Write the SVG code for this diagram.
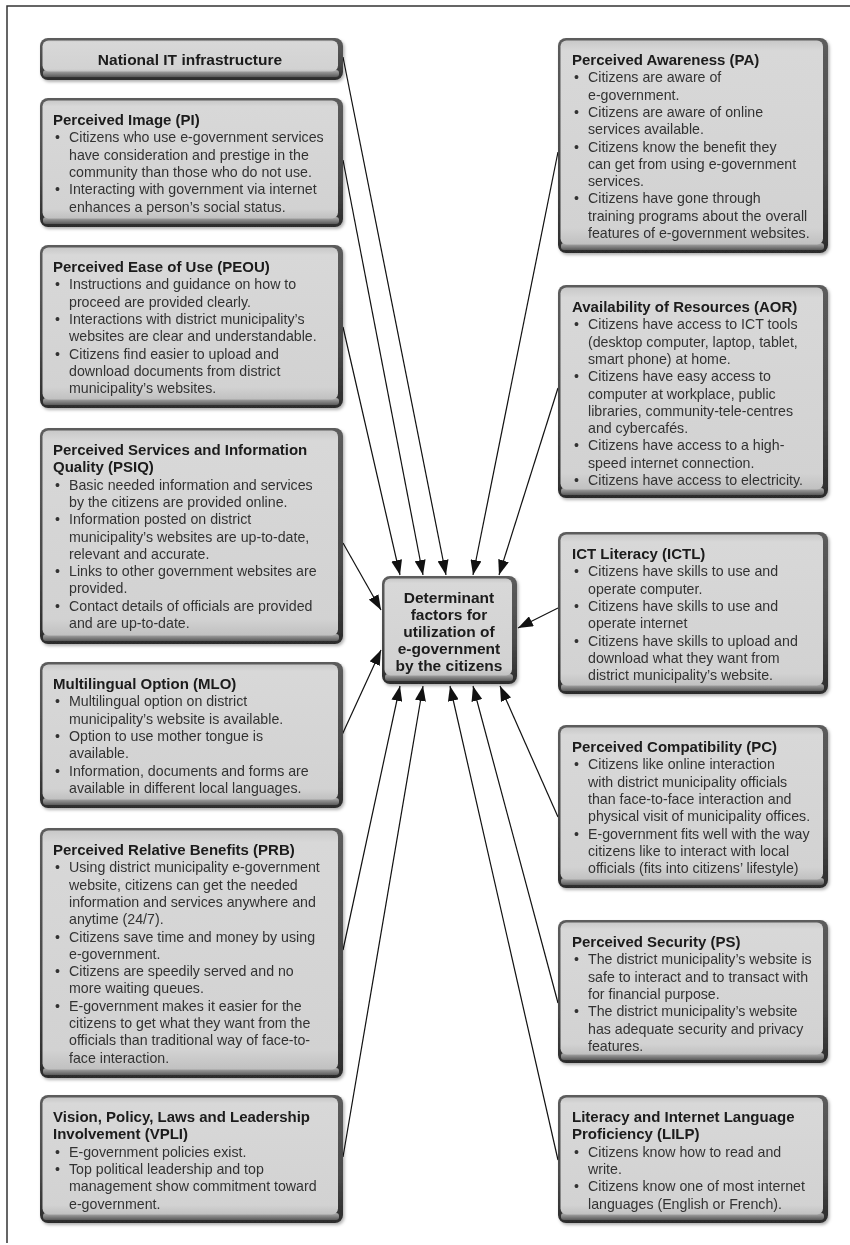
<svg xmlns="http://www.w3.org/2000/svg" width="850" height="1245" viewBox="0 0 850 1245">
<style>
.frame{fill:url(#frameG)}
.bev{fill:url(#bevG)}
.face{fill:url(#faceG)}
.box{filter:url(#ds)}
.ttl{font-family:"Liberation Sans",Arial,sans-serif;font-weight:bold;font-size:15px;fill:#1a1a1a}
.ctr{font-family:"Liberation Sans",Arial,sans-serif;font-weight:bold;font-size:15.5px;fill:#1a1a1a;text-anchor:middle}
.txt{font-family:"Liberation Sans",Arial,sans-serif;font-size:14.2px;fill:#333}
.conn line{stroke:#111;stroke-width:1.2;marker-end:url(#ah)}
.border{stroke:#333;stroke-width:1.5;fill:none}
</style>
<defs>
<linearGradient id="frameG" x1="0" y1="0" x2="0" y2="1"><stop offset="0" stop-color="#5c5c5c"/><stop offset="0.6" stop-color="#4a4a4a"/><stop offset="1" stop-color="#2c2c2c"/></linearGradient>
<linearGradient id="bevG" x1="0" y1="0" x2="0" y2="1"><stop offset="0" stop-color="#b0b0b0"/><stop offset="1" stop-color="#5a5a5a"/></linearGradient>
<linearGradient id="faceG" x1="0" y1="0" x2="0" y2="1"><stop offset="0" stop-color="#c8c8c8"/><stop offset="0.05" stop-color="#d8d8d8"/><stop offset="0.92" stop-color="#d2d2d2"/><stop offset="1" stop-color="#c0c0c0"/></linearGradient>
<filter id="ds" x="-5%" y="-5%" width="115%" height="125%"><feDropShadow dx="1.5" dy="2" stdDeviation="1.5" flood-color="#000" flood-opacity="0.3"/></filter>
<marker id="ah" markerUnits="userSpaceOnUse" markerWidth="15" markerHeight="11" refX="15" refY="5.5" orient="auto"><path d="M0,0 L15,5.5 L0,11 Z" fill="#111"/></marker>
</defs>

<path class="border" d="M7,1243 V6 H850"/>

<g id="connectors" class="conn">
<line x1="343" y1="57" x2="446" y2="575"/>
<line x1="343" y1="160" x2="423" y2="575"/>
<line x1="343" y1="327" x2="400" y2="575"/>
<line x1="558" y1="152" x2="473" y2="575"/>
<line x1="558" y1="388" x2="499" y2="575"/>
<line x1="343" y1="543" x2="381" y2="610"/>
<line x1="342" y1="735" x2="381" y2="650"/>
<line x1="558" y1="608" x2="518" y2="628"/>
<line x1="343" y1="950" x2="400" y2="686"/>
<line x1="343" y1="1157" x2="423" y2="686"/>
<line x1="558" y1="1160" x2="450" y2="686"/>
<line x1="558" y1="1003" x2="473" y2="686"/>
<line x1="558" y1="817" x2="500" y2="686"/>
</g>

<g id="center" class="box">
<rect class="frame" x="382" y="576" width="135" height="108" rx="8"/>
<rect class="bev" x="385" y="674" width="128" height="7" rx="3"/>
<rect class="face" x="384.5" y="578.5" width="127.5" height="97" rx="6"/>
<text class="ctr" x="449" y="602.5">Determinant</text>
<text class="ctr" x="449" y="619.5">factors for</text>
<text class="ctr" x="449" y="636.5">utilization of</text>
<text class="ctr" x="449" y="653.5">e-government</text>
<text class="ctr" x="449" y="670.5">by the citizens</text>
</g>

<g id="natit" class="box">
<rect class="frame" x="40" y="38" width="303" height="42" rx="8"/>
<rect class="bev" x="43" y="70" width="296" height="7" rx="3"/>
<rect class="face" x="42.5" y="40.5" width="295.5" height="31" rx="6"/>
<text class="ttl" x="190" y="65" text-anchor="middle" style="font-size:15.5px">National IT infrastructure</text>
</g>

<g id="pi" class="box">
<rect class="frame" x="40" y="98" width="303" height="129" rx="8"/>
<rect class="bev" x="43" y="217" width="296" height="7" rx="3"/>
<rect class="face" x="42.5" y="100.5" width="295.5" height="118" rx="6"/>
<text class="ttl" x="53" y="125">Perceived Image (PI)</text>
<text class="txt" x="55" y="142.3">•</text><text class="txt" x="69" y="142.3">Citizens who use e-government services</text>
<text class="txt" x="69" y="159.6">have consideration and prestige in the</text>
<text class="txt" x="69" y="176.9">community than those who do not use.</text>
<text class="txt" x="55" y="194.2">•</text><text class="txt" x="69" y="194.2">Interacting with government via internet</text>
<text class="txt" x="69" y="211.5">enhances a person’s social status.</text>
</g>

<g id="peou" class="box">
<rect class="frame" x="40" y="245" width="303" height="163" rx="8"/>
<rect class="bev" x="43" y="398" width="296" height="7" rx="3"/>
<rect class="face" x="42.5" y="247.5" width="295.5" height="152" rx="6"/>
<text class="ttl" x="53" y="272">Perceived Ease of Use (PEOU)</text>
<text class="txt" x="55" y="289.3">•</text><text class="txt" x="69" y="289.3">Instructions and guidance on how to</text>
<text class="txt" x="69" y="306.6">proceed are provided clearly.</text>
<text class="txt" x="55" y="323.9">•</text><text class="txt" x="69" y="323.9">Interactions with district municipality’s</text>
<text class="txt" x="69" y="341.2">websites are clear and understandable.</text>
<text class="txt" x="55" y="358.5">•</text><text class="txt" x="69" y="358.5">Citizens find easier to upload and</text>
<text class="txt" x="69" y="375.8">download documents from district</text>
<text class="txt" x="69" y="393.1">municipality’s websites.</text>
</g>

<g id="psiq" class="box">
<rect class="frame" x="40" y="428" width="303" height="216" rx="8"/>
<rect class="bev" x="43" y="634" width="296" height="7" rx="3"/>
<rect class="face" x="42.5" y="430.5" width="295.5" height="205" rx="6"/>
<text class="ttl" x="53" y="455">Perceived Services and Information</text>
<text class="ttl" x="53" y="472.3">Quality (PSIQ)</text>
<text class="txt" x="55" y="489.6">•</text><text class="txt" x="69" y="489.6">Basic needed information and services</text>
<text class="txt" x="69" y="506.9">by the citizens are provided online.</text>
<text class="txt" x="55" y="524.2">•</text><text class="txt" x="69" y="524.2">Information posted on district</text>
<text class="txt" x="69" y="541.5">municipality’s websites are up-to-date,</text>
<text class="txt" x="69" y="558.8">relevant and accurate.</text>
<text class="txt" x="55" y="576.1">•</text><text class="txt" x="69" y="576.1">Links to other government websites are</text>
<text class="txt" x="69" y="593.4">provided.</text>
<text class="txt" x="55" y="610.7">•</text><text class="txt" x="69" y="610.7">Contact details of officials are provided</text>
<text class="txt" x="69" y="628">and are up-to-date.</text>
</g>

<g id="mlo" class="box">
<rect class="frame" x="40" y="662" width="303" height="146" rx="8"/>
<rect class="bev" x="43" y="798" width="296" height="7" rx="3"/>
<rect class="face" x="42.5" y="664.5" width="295.5" height="135" rx="6"/>
<text class="ttl" x="53" y="689">Multilingual Option (MLO)</text>
<text class="txt" x="55" y="706.3">•</text><text class="txt" x="69" y="706.3">Multilingual option on district</text>
<text class="txt" x="69" y="723.6">municipality’s website is available.</text>
<text class="txt" x="55" y="740.9">•</text><text class="txt" x="69" y="740.9">Option to use mother tongue is</text>
<text class="txt" x="69" y="758.2">available.</text>
<text class="txt" x="55" y="775.5">•</text><text class="txt" x="69" y="775.5">Information, documents and forms are</text>
<text class="txt" x="69" y="792.8">available in different local languages.</text>
</g>

<g id="prb" class="box">
<rect class="frame" x="40" y="828" width="303" height="250" rx="8"/>
<rect class="bev" x="43" y="1068" width="296" height="7" rx="3"/>
<rect class="face" x="42.5" y="830.5" width="295.5" height="239" rx="6"/>
<text class="ttl" x="53" y="855">Perceived Relative Benefits (PRB)</text>
<text class="txt" x="55" y="872.3">•</text><text class="txt" x="69" y="872.3">Using district municipality e-government</text>
<text class="txt" x="69" y="889.6">website, citizens can get the needed</text>
<text class="txt" x="69" y="906.9">information and services anywhere and</text>
<text class="txt" x="69" y="924.2">anytime (24/7).</text>
<text class="txt" x="55" y="941.5">•</text><text class="txt" x="69" y="941.5">Citizens save time and money by using</text>
<text class="txt" x="69" y="958.8">e-government.</text>
<text class="txt" x="55" y="976.1">•</text><text class="txt" x="69" y="976.1">Citizens are speedily served and no</text>
<text class="txt" x="69" y="993.4">more waiting queues.</text>
<text class="txt" x="55" y="1010.7">•</text><text class="txt" x="69" y="1010.7">E-government makes it easier for the</text>
<text class="txt" x="69" y="1028">citizens to get what they want from the</text>
<text class="txt" x="69" y="1045.3">officials than traditional way of face-to-</text>
<text class="txt" x="69" y="1062.6">face interaction.</text>
</g>

<g id="vpli" class="box">
<rect class="frame" x="40" y="1095" width="303" height="128" rx="8"/>
<rect class="bev" x="43" y="1213" width="296" height="7" rx="3"/>
<rect class="face" x="42.5" y="1097.5" width="295.5" height="117" rx="6"/>
<text class="ttl" x="53" y="1122">Vision, Policy, Laws and Leadership</text>
<text class="ttl" x="53" y="1139.3">Involvement (VPLI)</text>
<text class="txt" x="55" y="1156.6">•</text><text class="txt" x="69" y="1156.6">E-government policies exist.</text>
<text class="txt" x="55" y="1173.9">•</text><text class="txt" x="69" y="1173.9">Top political leadership and top</text>
<text class="txt" x="69" y="1191.2">management show commitment toward</text>
<text class="txt" x="69" y="1208.5">e-government.</text>
</g>

<g id="pa" class="box">
<rect class="frame" x="558" y="38" width="270" height="215" rx="8"/>
<rect class="bev" x="561" y="243" width="263" height="7" rx="3"/>
<rect class="face" x="560.5" y="40.5" width="262.5" height="204" rx="6"/>
<text class="ttl" x="572" y="65">Perceived Awareness (PA)</text>
<text class="txt" x="574" y="82.3">•</text><text class="txt" x="588" y="82.3">Citizens are aware of</text>
<text class="txt" x="588" y="99.6">e-government.</text>
<text class="txt" x="574" y="116.9">•</text><text class="txt" x="588" y="116.9">Citizens are aware of online</text>
<text class="txt" x="588" y="134.2">services available.</text>
<text class="txt" x="574" y="151.5">•</text><text class="txt" x="588" y="151.5">Citizens know the benefit they</text>
<text class="txt" x="588" y="168.8">can get from using e-government</text>
<text class="txt" x="588" y="186.1">services.</text>
<text class="txt" x="574" y="203.4">•</text><text class="txt" x="588" y="203.4">Citizens have gone through</text>
<text class="txt" x="588" y="220.7">training programs about the overall</text>
<text class="txt" x="588" y="238">features of e-government websites.</text>
</g>

<g id="aor" class="box">
<rect class="frame" x="558" y="285" width="270" height="213" rx="8"/>
<rect class="bev" x="561" y="488" width="263" height="7" rx="3"/>
<rect class="face" x="560.5" y="287.5" width="262.5" height="202" rx="6"/>
<text class="ttl" x="572" y="312">Availability of Resources (AOR)</text>
<text class="txt" x="574" y="329.3">•</text><text class="txt" x="588" y="329.3">Citizens have access to ICT tools</text>
<text class="txt" x="588" y="346.6">(desktop computer, laptop, tablet,</text>
<text class="txt" x="588" y="363.9">smart phone) at home.</text>
<text class="txt" x="574" y="381.2">•</text><text class="txt" x="588" y="381.2">Citizens have easy access to</text>
<text class="txt" x="588" y="398.5">computer at workplace, public</text>
<text class="txt" x="588" y="415.8">libraries, community-tele-centres</text>
<text class="txt" x="588" y="433.1">and cybercafés.</text>
<text class="txt" x="574" y="450.4">•</text><text class="txt" x="588" y="450.4">Citizens have access to a high-</text>
<text class="txt" x="588" y="467.7">speed internet connection.</text>
<text class="txt" x="574" y="485">•</text><text class="txt" x="588" y="485">Citizens have access to electricity.</text>
</g>

<g id="ictl" class="box">
<rect class="frame" x="558" y="532" width="270" height="162" rx="8"/>
<rect class="bev" x="561" y="684" width="263" height="7" rx="3"/>
<rect class="face" x="560.5" y="534.5" width="262.5" height="151" rx="6"/>
<text class="ttl" x="572" y="559">ICT Literacy (ICTL)</text>
<text class="txt" x="574" y="576.3">•</text><text class="txt" x="588" y="576.3">Citizens have skills to use and</text>
<text class="txt" x="588" y="593.6">operate computer.</text>
<text class="txt" x="574" y="610.9">•</text><text class="txt" x="588" y="610.9">Citizens have skills to use and</text>
<text class="txt" x="588" y="628.2">operate internet</text>
<text class="txt" x="574" y="645.5">•</text><text class="txt" x="588" y="645.5">Citizens have skills to upload and</text>
<text class="txt" x="588" y="662.8">download what they want from</text>
<text class="txt" x="588" y="680.1">district municipality’s website.</text>
</g>

<g id="pc" class="box">
<rect class="frame" x="558" y="725" width="270" height="163" rx="8"/>
<rect class="bev" x="561" y="878" width="263" height="7" rx="3"/>
<rect class="face" x="560.5" y="727.5" width="262.5" height="152" rx="6"/>
<text class="ttl" x="572" y="752">Perceived Compatibility (PC)</text>
<text class="txt" x="574" y="769.3">•</text><text class="txt" x="588" y="769.3">Citizens like online interaction</text>
<text class="txt" x="588" y="786.6">with district municipality officials</text>
<text class="txt" x="588" y="803.9">than face-to-face interaction and</text>
<text class="txt" x="588" y="821.2">physical visit of municipality offices.</text>
<text class="txt" x="574" y="838.5">•</text><text class="txt" x="588" y="838.5">E-government fits well with the way</text>
<text class="txt" x="588" y="855.8">citizens like to interact with local</text>
<text class="txt" x="588" y="873.1">officials (fits into citizens’ lifestyle)</text>
</g>

<g id="ps" class="box">
<rect class="frame" x="558" y="920" width="270" height="143" rx="8"/>
<rect class="bev" x="561" y="1053" width="263" height="7" rx="3"/>
<rect class="face" x="560.5" y="922.5" width="262.5" height="132" rx="6"/>
<text class="ttl" x="572" y="947">Perceived Security (PS)</text>
<text class="txt" x="574" y="964.3">•</text><text class="txt" x="588" y="964.3">The district municipality’s website is</text>
<text class="txt" x="588" y="981.6">safe to interact and to transact with</text>
<text class="txt" x="588" y="998.9">for financial purpose.</text>
<text class="txt" x="574" y="1016.2">•</text><text class="txt" x="588" y="1016.2">The district municipality’s website</text>
<text class="txt" x="588" y="1033.5">has adequate security and privacy</text>
<text class="txt" x="588" y="1050.8">features.</text>
</g>

<g id="lilp" class="box">
<rect class="frame" x="558" y="1095" width="270" height="128" rx="8"/>
<rect class="bev" x="561" y="1213" width="263" height="7" rx="3"/>
<rect class="face" x="560.5" y="1097.5" width="262.5" height="117" rx="6"/>
<text class="ttl" x="572" y="1122">Literacy and Internet Language</text>
<text class="ttl" x="572" y="1139.3">Proficiency (LILP)</text>
<text class="txt" x="574" y="1156.6">•</text><text class="txt" x="588" y="1156.6">Citizens know how to read and</text>
<text class="txt" x="588" y="1173.9">write.</text>
<text class="txt" x="574" y="1191.2">•</text><text class="txt" x="588" y="1191.2">Citizens know one of most internet</text>
<text class="txt" x="588" y="1208.5">languages (English or French).</text>
</g>
</svg>
